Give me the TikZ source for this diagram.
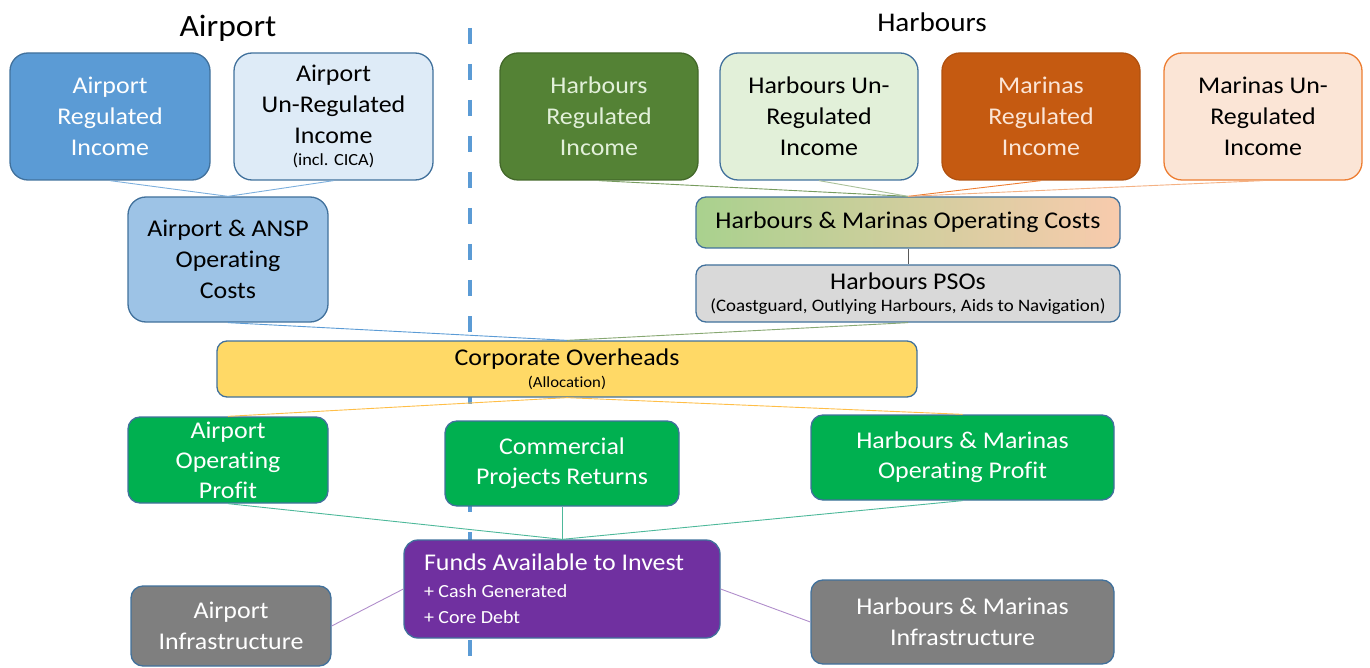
\documentclass[tikz,border=0pt]{standalone}
\usepackage{fontspec}
\setmainfont{Carlito}[FakeStretch=1.08, Ligatures=NoCommon]
\begin{document}
\definecolor{edgeblue}{HTML}{41719C}
\definecolor{airreg}{HTML}{5B9BD5}
\definecolor{airunreg}{HTML}{DEEBF7}
\definecolor{airops}{HTML}{9DC3E6}
\definecolor{harreg}{HTML}{548235}
\definecolor{harunreg}{HTML}{E2F0D9}
\definecolor{hargrad}{HTML}{A9D18E}
\definecolor{marreg}{HTML}{C55A11}
\definecolor{marunreg}{HTML}{FBE5D6}
\definecolor{margrad}{HTML}{F8CBAD}
\definecolor{marline}{HTML}{ED7D31}
\definecolor{psogrey}{HTML}{D9D9D9}
\definecolor{overhead}{HTML}{FFD966}
\definecolor{profit}{HTML}{00B050}
\definecolor{funds}{HTML}{7030A0}
\definecolor{infra}{HTML}{7F7F7F}
\definecolor{divider}{HTML}{5B9BD5}
\definecolor{profitlink}{HTML}{4DB89A}
\begin{tikzpicture}[x=1pt,y=-1pt,
  box/.style={draw=edgeblue, line width=1.3pt, rounded corners=18pt,
    align=center, inner sep=0pt, font=\fontsize{24}{31}\selectfont},
  link/.style={line width=0.9pt},
  title/.style={font=\fontsize{31}{34}\selectfont}]
\useasboundingbox (0,0) rectangle (1370,668);

% divider between the two business areas
\coordinate (divtop) at (470,28);
\coordinate (divbot) at (470,668);
\draw[divider, line width=3.5pt, dash pattern=on 16pt off 20pt] (divtop) -- (divbot);

% section titles
\node[title] (tair) at (228,28) {Airport};
\node[title, font=\fontsize{27}{30}\selectfont] (thar) at (932,22) {Harbours};

% income boxes
\node[box, fill=airreg, text=white, minimum width=200, minimum height=127] (ari) at (110,116.5)
  {Airport\\Regulated\\Income};
\node[box, fill=airunreg, minimum width=199, minimum height=127] (aui) at (333.5,116.5)
  {Airport\\Un-Regulated\\Income\\[-9pt]{\fontsize{17}{19}\selectfont (incl. CICA)}};
\node[box, fill=harreg, draw=harreg!80!black, text=harunreg, minimum width=198, minimum height=127] (hri) at (599,116.5)
  {Harbours\\Regulated\\Income};
\node[box, fill=harunreg, minimum width=198, minimum height=127] (hui) at (819,116.5)
  {Harbours Un-\\Regulated\\Income};
\node[box, fill=marreg, draw=marreg!90!black, text=marunreg, minimum width=198, minimum height=127] (mri) at (1041,116.5)
  {Marinas\\Regulated\\Income};
\node[box, fill=marunreg, draw=marline, minimum width=198, minimum height=127] (mui) at (1263,116.5)
  {Marinas Un-\\Regulated\\Income};

% operating costs
\node[box, fill=airops, minimum width=200, minimum height=125] (ansp) at (228,259.5)
  {Airport \& ANSP\\Operating\\Costs};
\node[box, left color=hargrad, right color=margrad, rounded corners=10pt,
  minimum width=424, minimum height=51] (hmoc) at (908,222.5)
  {Harbours \& Marinas Operating Costs};
\node[box, fill=psogrey, rounded corners=10pt, minimum width=424, minimum height=57] (pso) at (908,293.5)
  {Harbours PSOs\\[-9pt]{\fontsize{17.5}{19}\selectfont (Coastguard, Outlying Harbours, Aids to Navigation)}};

% overheads
\node[box, fill=overhead, rounded corners=10pt, minimum width=700, minimum height=56] (co) at (567,369)
  {Corporate Overheads\\[-9pt]{\fontsize{15.5}{18}\selectfont (Allocation)}};

% profits
\node[box, fill=profit, text=white, rounded corners=12pt, minimum width=200, minimum height=86,
  font=\fontsize{24}{30}\selectfont] (aop) at (228,460)
  {Airport\\Operating\\Profit};
\node[box, fill=profit, text=white, rounded corners=12pt, minimum width=234, minimum height=85,
  font=\fontsize{24}{30}\selectfont] (cpr) at (562,463.5)
  {Commercial\\Projects Returns};
\node[box, fill=profit, text=white, rounded corners=12pt, minimum width=303, minimum height=85,
  font=\fontsize{24}{30}\selectfont] (hmop) at (962.5,457.5)
  {Harbours \& Marinas\\Operating Profit};

% investment
\node[box, fill=funds, text=white, rounded corners=14pt, align=flush left, text width=296, inner xsep=10pt,
  minimum height=98] (fund) at (562,589)
  {\hspace*{10pt}{\fontsize{24}{27}\selectfont Funds Available to Invest}\\[-4pt]
   \hspace*{10pt}{\fontsize{18.5}{24}\selectfont + Cash Generated}\\[-5pt]
   \hspace*{10pt}{\fontsize{18.5}{24}\selectfont + Core Debt}};
\node[box, fill=infra, text=white, rounded corners=12pt, minimum width=200, minimum height=80] (ainf) at (231,626)
  {Airport\\Infrastructure};
\node[box, fill=infra, text=white, rounded corners=12pt, minimum width=303, minimum height=84] (hinf) at (962.5,622)
  {Harbours \& Marinas\\Infrastructure};

% connectors
\draw[link, airreg!80] (ari.south) -- (ansp.north);
\draw[link, airreg!80] (aui.south) -- (ansp.north);
\draw[link, harreg!80!white] (hri.south) -- (hmoc.north);
\draw[link, harreg!50!white] (hui.south) -- (hmoc.north);
\draw[link, marline] (mri.south) -- (hmoc.north);
\draw[link, marline!60!white] (mui.south) -- (hmoc.north);
\draw[link, black!65] (hmoc.south) -- (pso.north);
\draw[link, airreg] (ansp.south) -- (co.north);
\draw[link, harreg!70!white] (pso.south) -- (co.north);
\draw[link, overhead!70!orange] (co.south) -- (aop.north);
\draw[link, overhead!70!orange] (co.south) -- (hmop.north);
\draw[link, profitlink] (aop.south) -- (fund.north);
\draw[link, profitlink] (cpr.south) -- (fund.north);
\draw[link, profitlink] (hmop.south) -- (fund.north);
\draw[link, funds!55!white] (fund.west) -- (ainf.east);
\draw[link, funds!55!white] (fund.east) -- (hinf.west);
\end{tikzpicture}
\end{document}
